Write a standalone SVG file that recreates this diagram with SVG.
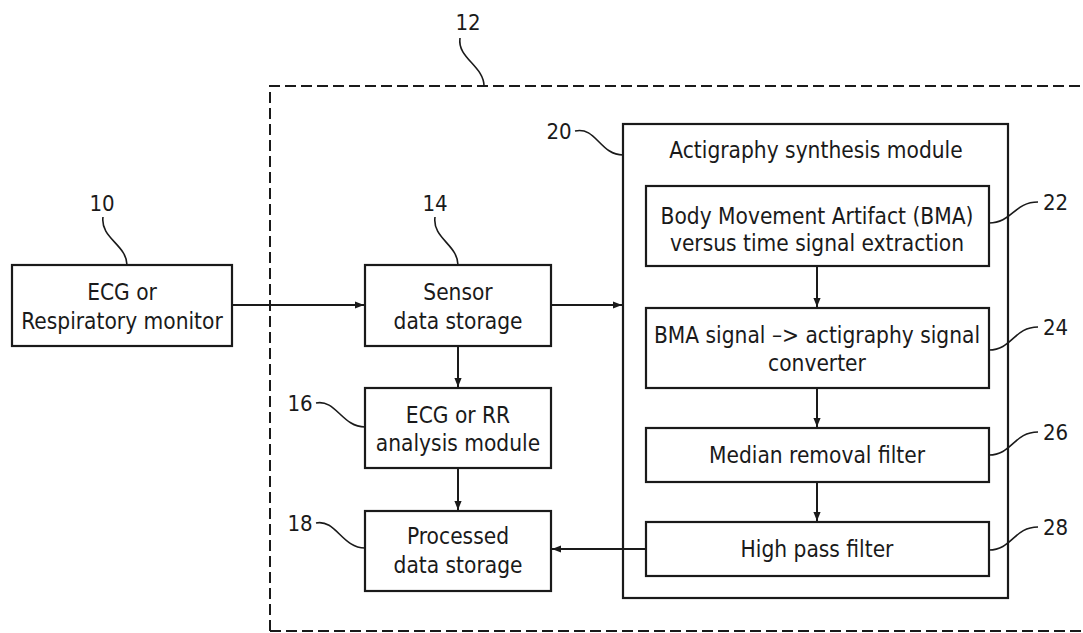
<svg xmlns="http://www.w3.org/2000/svg" width="1083" height="633" viewBox="0 0 1083 633">
  <style>
    .box { fill: #fff; stroke: #1a1a1a; stroke-width: 2.2; }
    .txt { font-family: "DejaVu Sans Condensed", "DejaVu Sans", sans-serif; font-size: 22.5px; fill: #1a1a1a; text-anchor: middle; }
    .ref { font-family: "DejaVu Sans Condensed", "DejaVu Sans", sans-serif; font-size: 22px; fill: #1a1a1a; }
    .lead { fill: none; stroke: #1a1a1a; stroke-width: 1.6; }
    .conn { fill: none; stroke: #1a1a1a; stroke-width: 2; }
    .dash { fill: none; stroke: #1a1a1a; stroke-width: 2; stroke-dasharray: 11 5; }
  </style>
  <defs>
    <marker id="arrow" viewBox="0 0 10 10" refX="10" refY="5" markerWidth="9" markerHeight="9" markerUnits="userSpaceOnUse" orient="auto">
      <path d="M0,1 L10,5 L0,9 Z" fill="#1a1a1a"/>
    </marker>
  </defs>
  <rect width="1083" height="633" fill="#fff"/>

  <!-- system boundary 12 -->
  <g id="system-12">
    <path class="dash" d="M270,631 V86 H1083"/>
    <path class="dash" d="M270,631 H1083" stroke="#777"/>
    <path class="lead" d="M460,38 C457,58 484,66 484,86"/>
    <text class="ref" x="468" y="30" text-anchor="middle">12</text>
  </g>

  <!-- monitor 10 -->
  <g id="node-10">
    <rect class="box" x="12" y="265" width="220" height="81"/>
    <text class="txt" x="122" y="300">ECG or</text>
    <text class="txt" x="122" y="329">Respiratory monitor</text>
    <path class="lead" d="M103,217 C100,238 127,245 127,265"/>
    <text class="ref" x="102" y="211" text-anchor="middle">10</text>
  </g>

  <!-- sensor data storage 14 -->
  <g id="node-14">
    <rect class="box" x="365" y="265" width="186" height="81"/>
    <text class="txt" x="458" y="300">Sensor</text>
    <text class="txt" x="458" y="329">data storage</text>
    <path class="lead" d="M435,217 C432,238 458,245 458,265"/>
    <text class="ref" x="435" y="211" text-anchor="middle">14</text>
  </g>

  <!-- analysis module 16 -->
  <g id="node-16">
    <rect class="box" x="365" y="388" width="186" height="80"/>
    <text class="txt" x="458" y="423">ECG or RR</text>
    <text class="txt" x="458" y="451">analysis module</text>
    <path class="lead" d="M316,403 C336,399 342,427 365,427"/>
    <text class="ref" x="300" y="411" text-anchor="middle">16</text>
  </g>

  <!-- processed data storage 18 -->
  <g id="node-18">
    <rect class="box" x="365" y="511" width="186" height="80"/>
    <text class="txt" x="458" y="544">Processed</text>
    <text class="txt" x="458" y="573">data storage</text>
    <path class="lead" d="M316,523 C336,519 342,548 365,548"/>
    <text class="ref" x="300" y="531" text-anchor="middle">18</text>
  </g>

  <!-- actigraphy synthesis module 20 -->
  <g id="node-20">
    <rect class="box" x="623" y="124" width="385" height="474"/>
    <text class="txt" x="816" y="158">Actigraphy synthesis module</text>
    <path class="lead" d="M575,131 C596,126 600,155 623,155"/>
    <text class="ref" x="559" y="139" text-anchor="middle">20</text>
  </g>

  <g id="node-22">
    <rect class="box" x="646" y="186" width="343" height="80"/>
    <text class="txt" x="817" y="224">Body Movement Artifact (BMA)</text>
    <text class="txt" x="817" y="251">versus time signal extraction</text>
    <path class="lead" d="M989,223 C1012,223 1014,202 1038,202"/>
    <text class="ref" x="1043" y="210">22</text>
  </g>

  <g id="node-24">
    <rect class="box" x="646" y="308" width="343" height="80"/>
    <text class="txt" x="817" y="343">BMA signal –&gt; actigraphy signal</text>
    <text class="txt" x="817" y="371">converter</text>
    <path class="lead" d="M989,350 C1012,350 1014,327 1038,327"/>
    <text class="ref" x="1043" y="335">24</text>
  </g>

  <g id="node-26">
    <rect class="box" x="646" y="428" width="343" height="54"/>
    <text class="txt" x="817" y="463">Median removal filter</text>
    <path class="lead" d="M989,455 C1012,455 1014,432 1038,432"/>
    <text class="ref" x="1043" y="440">26</text>
  </g>

  <g id="node-28">
    <rect class="box" x="646" y="522" width="343" height="54"/>
    <text class="txt" x="817" y="557">High pass filter</text>
    <path class="lead" d="M989,550 C1012,550 1014,527 1038,527"/>
    <text class="ref" x="1043" y="535">28</text>
  </g>

  <!-- connectors -->
  <g id="connectors">
    <path class="conn" d="M232,305 H364" marker-end="url(#arrow)"/>
    <path class="conn" d="M551,305 H622" marker-end="url(#arrow)"/>
    <path class="conn" d="M458,346 V387" marker-end="url(#arrow)"/>
    <path class="conn" d="M458,468 V510" marker-end="url(#arrow)"/>
    <path class="conn" d="M817,266 V307" marker-end="url(#arrow)"/>
    <path class="conn" d="M817,388 V427" marker-end="url(#arrow)"/>
    <path class="conn" d="M817,482 V521" marker-end="url(#arrow)"/>
    <path class="conn" d="M646,549 H552" marker-end="url(#arrow)"/>
  </g>
</svg>
